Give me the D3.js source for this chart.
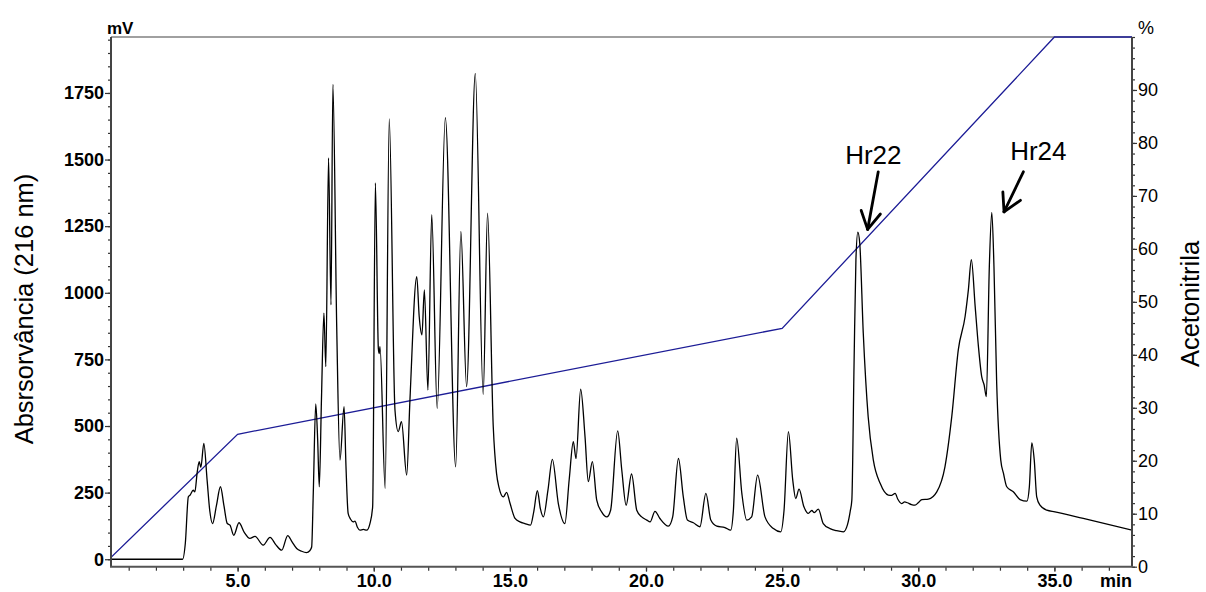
<!DOCTYPE html>
<html><head><meta charset="utf-8">
<script src="https://cdn.jsdelivr.net/npm/d3@7/dist/d3.min.js"></script>
<style>
body{margin:0;background:#fff}
text{font-family:"Liberation Sans",Arial,Helvetica,sans-serif}
</style>
</head><body>
<svg id="c" width="1206" height="592"></svg>
<script>
// ---- data ----
const traceTime = [0.35,2.98,3.08,3.19,3.25,3.37,3.43,3.52,3.59,3.65,3.76,3.88,3.98,4.08,4.22,4.37,4.50,4.62,4.72,4.86,5.05,5.25,5.45,5.64,5.94,6.19,6.40,6.62,6.84,7.00,7.17,7.35,7.53,7.65,7.72,7.78,7.87,7.94,8.00,8.08,8.17,8.24,8.34,8.43,8.50,8.64,8.76,8.91,8.98,9.06,9.15,9.25,9.31,9.40,9.49,9.62,9.74,9.86,9.96,10.06,10.17,10.20,10.23,10.42,10.57,10.78,10.90,11.02,11.21,11.33,11.58,11.67,11.77,11.86,11.99,12.13,12.33,12.63,13.01,13.20,13.41,13.73,14.02,14.18,14.39,14.51,14.60,14.76,14.88,15.00,15.19,15.37,15.55,15.76,15.88,16.01,16.12,16.23,16.40,16.56,16.78,17.02,17.18,17.33,17.43,17.60,17.76,17.88,18.03,18.19,18.37,18.56,18.70,18.96,19.11,19.27,19.47,19.66,19.84,20.03,20.15,20.33,20.51,20.82,20.98,21.19,21.37,21.52,21.74,21.98,22.20,22.38,22.60,22.90,23.11,23.21,23.33,23.52,23.70,23.88,24.10,24.37,24.68,24.95,25.07,25.23,25.39,25.50,25.62,25.80,25.96,26.09,26.18,26.33,26.51,26.76,27.00,27.25,27.40,27.50,27.56,27.64,27.71,27.78,27.85,27.98,28.16,28.35,28.60,28.90,29.03,29.15,29.25,29.39,29.50,29.60,29.75,29.88,30.00,30.13,30.37,30.68,30.98,31.23,31.47,31.72,31.84,31.95,32.09,32.21,32.33,32.42,32.50,32.61,32.70,32.78,32.88,33.03,33.13,33.25,33.49,33.74,33.99,34.08,34.17,34.26,34.35,34.47,34.72,35.02,36.06,37.85];
const traceMV = [0,0,60,234,240,259,253,330,366,345,435,297,180,134,200,272,200,134,128,90,137,100,78,86,53,82,55,34,89,65,40,30,25,32,46,250,583,450,272,600,924,723,1506,955,1782,873,372,573,350,172,150,140,143,120,109,112,109,134,197,1412,790,772,798,266,1653,560,479,516,316,598,1061,911,842,1011,635,1293,566,1657,347,1230,648,1823,619,1299,497,322,270,234,251,212,153,140,134,128,180,257,190,159,260,375,209,134,300,441,378,638,460,291,366,222,178,159,184,482,335,203,320,184,159,147,140,180,153,124,159,378,234,147,137,122,247,147,124,119,109,184,454,247,147,159,316,159,115,103,184,479,297,228,263,197,172,183,175,188,134,115,107,103,130,180,222,723,1124,1228,1187,848,535,372,285,241,240,247,225,209,215,212,205,203,212,224,226,253,347,535,786,911,1011,1124,948,798,685,654,610,1099,1302,1099,660,372,322,272,253,224,218,272,437,372,234,203,184,178,153,109];

const gradTime = [0, 5, 25, 35, 37.85];
const gradPct  = [0, 25, 45, 100, 100];

const xMajor = [5, 10, 15, 20, 25, 30, 35];
const xMinor = d3.range(1, 38, 1);
const yMajor = [0, 250, 500, 750, 1000, 1250, 1500, 1750];
const yMinor = d3.range(0, 1951, 50);
const pMajor = [0, 10, 20, 30, 40, 50, 60, 70, 80, 90];
const pMinor = d3.range(0, 101, 2);

const annLabels = ["Hr22", "Hr24"];
const annText = [[28.35, 1483], [34.41, 1498]];
const annTail = [[28.53, 1454], [33.86, 1454]];
const annTip  = [[28.14, 1238], [33.15, 1304]];

// ---- layout ----
const L = 111, R = 1132, T = 37, B = 566.7;
const svg = d3.select("#c");
const x = d3.scaleLinear().domain([0.35, 37.85]).range([L, R]);
const y = d3.scaleLinear().domain([-28, 1960]).range([B, T]);
const yp = d3.scaleLinear().domain([0, 100]).range([B, T]);

svg.append("clipPath").attr("id","clip").append("rect")
  .attr("x", L).attr("y", T - 1).attr("width", R - L).attr("height", B - T + 1);

svg.append("line").attr("x1", L).attr("x2", R).attr("y1", T).attr("y2", T)
  .attr("stroke", "#808080").attr("stroke-width", 1.5);

const gData = gradTime.map((t, i) => [t, gradPct[i]]);
svg.append("path").datum(gData).attr("clip-path","url(#clip)")
  .attr("fill","none").attr("stroke","#1c1c96").attr("stroke-width",1.3)
  .attr("d", d3.line().x(d => x(d[0])).y(d => yp(d[1])));

const tData = traceTime.map((t, i) => [t, traceMV[i]]);
svg.append("path").datum(tData).attr("clip-path","url(#clip)")
  .attr("fill","none").attr("stroke","#000").attr("stroke-width",1.3)
  .attr("stroke-linejoin","round")
  .attr("d", d3.line().curve(d3.curveMonotoneX).x(d => x(d[0])).y(d => y(d[1])));

function styleAxis(g){ g.select(".domain").remove(); g.selectAll("line").attr("stroke","#333").attr("stroke-width",1.2); }

svg.append("g").attr("transform",`translate(${L},0)`)
  .call(d3.axisLeft(y).tickValues(yMinor).tickSize(3).tickFormat(""))
  .call(styleAxis);
const gl = svg.append("g").attr("transform",`translate(${L},0)`)
  .call(d3.axisLeft(y).tickValues(yMajor).tickSize(6).tickPadding(1).tickFormat(d3.format("d")))
  .call(styleAxis);
gl.selectAll("text").attr("font-size",18).attr("font-weight","bold").attr("fill","#000")
  .attr("font-family","'Liberation Sans',Arial,sans-serif");

svg.append("g").attr("transform",`translate(0,${B})`)
  .call(d3.axisBottom(x).tickValues(xMinor).tickSize(4).tickFormat(""))
  .call(styleAxis);
const gb = svg.append("g").attr("transform",`translate(0,${B})`)
  .call(d3.axisBottom(x).tickValues(xMajor).tickSize(5).tickPadding(4).tickFormat(d3.format(".1f")))
  .call(styleAxis);
gb.selectAll("text").attr("font-size",18).attr("font-weight","bold").attr("fill","#000")
  .attr("font-family","'Liberation Sans',Arial,sans-serif").attr("dy",null).attr("y",null)
  .attr("transform","translate(0,20)");

svg.append("g").attr("transform",`translate(${R},0)`)
  .call(d3.axisRight(yp).tickValues(pMinor).tickSize(3).tickFormat(""))
  .call(styleAxis);
const gr = svg.append("g").attr("transform",`translate(${R},0)`)
  .call(d3.axisRight(yp).tickValues(pMajor).tickSize(5).tickPadding(1).tickFormat(d3.format("d")))
  .call(styleAxis);
gr.selectAll("text").attr("font-size",18).attr("fill","#000")
  .attr("font-family","'Liberation Sans',Arial,sans-serif");

svg.append("line").attr("x1",L).attr("x2",L).attr("y1",T).attr("y2",B).attr("stroke","#444").attr("stroke-width",2);
svg.append("line").attr("x1",R).attr("x2",R).attr("y1",T).attr("y2",B+0.5).attr("stroke","#444").attr("stroke-width",2);
svg.append("line").attr("x1",L-1).attr("x2",R+1).attr("y1",B).attr("y2",B).attr("stroke","#555").attr("stroke-width",2);

svg.append("text").attr("x",107).attr("y",34).attr("font-size",17).attr("font-weight","bold").text("mV");
svg.append("text").attr("x",1138).attr("y",34).attr("font-size",18).text("%");
svg.append("text").attr("x",R).attr("y",587).attr("text-anchor","end").attr("font-size",18).attr("font-weight","bold").text("min");

svg.append("text").attr("transform","translate(33,309) rotate(-90)").attr("text-anchor","middle")
  .attr("font-size",25.5).text("Absrsorvância (216 nm)");
svg.append("text").attr("transform","translate(1199,304) rotate(-90)").attr("text-anchor","middle")
  .attr("font-size",25.5).text("Acetonitrila");

annLabels.forEach((lab, i) => {
  svg.append("text").attr("x", x(annText[i][0])).attr("y", y(annText[i][1]))
    .attr("text-anchor","middle").attr("font-size",26).text(lab);
  const tx = x(annTail[i][0]), ty = y(annTail[i][1]);
  const px = x(annTip[i][0]), py = y(annTip[i][1]);
  const ang = Math.atan2(ty - py, tx - px);
  const g = svg.append("g").attr("stroke","#000").attr("stroke-width",2.8).attr("stroke-linecap","round").attr("fill","none");
  g.append("line").attr("x1",tx).attr("y1",ty).attr("x2",px).attr("y2",py);
  [-0.51, 0.51].forEach(da => {
    g.append("line").attr("x1",px).attr("y1",py)
      .attr("x2",px + 20*Math.cos(ang+da)).attr("y2",py + 20*Math.sin(ang+da));
  });
});
</script>
</body></html>
